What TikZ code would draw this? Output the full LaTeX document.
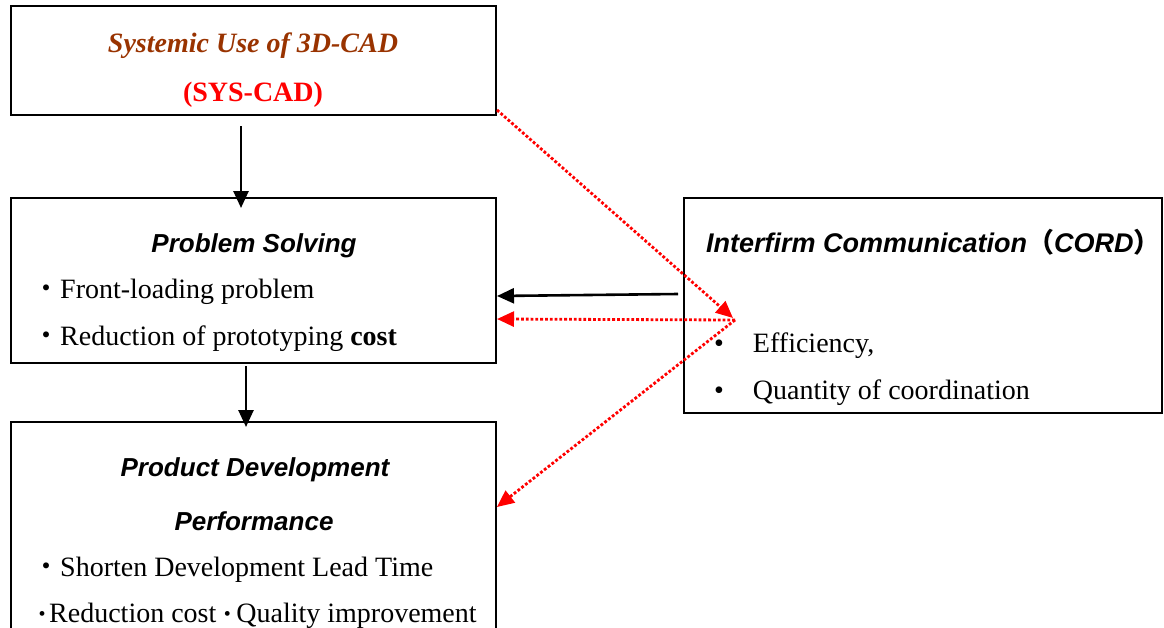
\documentclass[tikz,border=0pt]{standalone}
\usepackage{fontspec}
\setmainfont{Liberation Serif}
\newfontfamily\sansf{Liberation Sans}
\newfontfamily\cjk{Noto Sans CJK JP}
\usetikzlibrary{arrows.meta,calc}
\definecolor{brownt}{HTML}{993300}
\newcommand{\smdot}{\makebox[14pt][c]{\fontsize{20}{20}\selectfont\raisebox{2pt}{•}}}
\begin{document}
\begin{tikzpicture}[x=1pt,y=-1pt,
  boxs/.style={draw=black,line width=2pt,rectangle,inner sep=0pt},
  blk/.style={line width=2.6pt,-{Triangle[length=17pt,width=15pt]}},
  reddot/.style={draw=red,line width=2.8pt,dotted,-{Triangle[length=17pt,width=15pt]},red},
  ttl/.style={font=\sansf\bfseries\itshape\fontsize{26}{30}\selectfont,anchor=base},
  txt/.style={font=\fontsize{28}{32}\selectfont,anchor=base west,inner sep=0pt},
]
\useasboundingbox (0,0) rectangle (1164,627);
\clip (0,0) rectangle (1164,627);
\fill[white] (0,0) rectangle (1164,627);
% boxes
\node[boxs,minimum width=485pt,minimum height=109pt] (b1) at (253.5,60.5) {};
\node[boxs,minimum width=485pt,minimum height=165pt] (b2) at (253.5,280.5) {};
\node[boxs,minimum width=485pt,minimum height=258pt] (b3) at (253.5,551) {};
\node[boxs,minimum width=478pt,minimum height=215pt] (b4) at (923,305.5) {};
% texts box1
\node[anchor=base,inner sep=0pt,text=brownt,font=\bfseries\itshape\fontsize{28}{32}\selectfont] (t1) at (253,52) {Systemic Use of 3D-CAD};
\node[anchor=base,inner sep=0pt,text=red,font=\bfseries\fontsize{28}{32}\selectfont] (t2) at (253,101) {(SYS-CAD)};
% box2
\node[ttl,inner sep=0pt] (t3) at (254,252) {Problem Solving};
\node[txt] (t4) at (32,298) {{\cjk ・}Front-loading problem};
\node[txt] (t5) at (32,345) {{\cjk ・}Reduction of prototyping \textbf{cost}};
% box3
\node[ttl,inner sep=0pt] (t6) at (255,476) {Product Development};
\node[ttl,inner sep=0pt] (t7) at (254,530) {Performance};
\node[txt] (t8) at (32,576) {{\cjk ・}Shorten Development Lead Time};
\node[txt] (t9) at (35,622) {\smdot Reduction cost\hspace{4pt}\smdot\hspace{2pt}Quality improvement};
% box4
\node[anchor=base west,inner sep=0pt,font=\sansf\bfseries\itshape\fontsize{27}{30}\selectfont] (t10) at (706,252) {Interfirm Communication{\cjk （}CORD{\cjk ）}};
\node[txt] (t11) at (714,352) {•\hspace{29pt}Efficiency,};
\node[txt] (t12) at (714,399) {•\hspace{29pt}Quantity of coordination};
% connectors
\coordinate (a1) at (241,126);
\coordinate (a1e) at (241,208);
\draw[blk] (a1) -- (a1e);
\coordinate (a2) at (246,366);
\coordinate (a2e) at (246,427);
\draw[blk] (a2) -- (a2e);
\coordinate (a3) at (678,294);
\coordinate (a3e) at (497,296);
\draw[blk] (a3) -- (a3e);
\coordinate (hub) at (735,320);
\coordinate (r1) at (497,110);
\coordinate (r1e) at (733,318);
\draw[reddot] (r1) -- (r1e);
\coordinate (r2e) at (497,319);
\draw[reddot] (hub) -- (r2e);
\coordinate (r3e) at (497,507);
\draw[reddot] (hub) -- (r3e);
\end{tikzpicture}
\end{document}
